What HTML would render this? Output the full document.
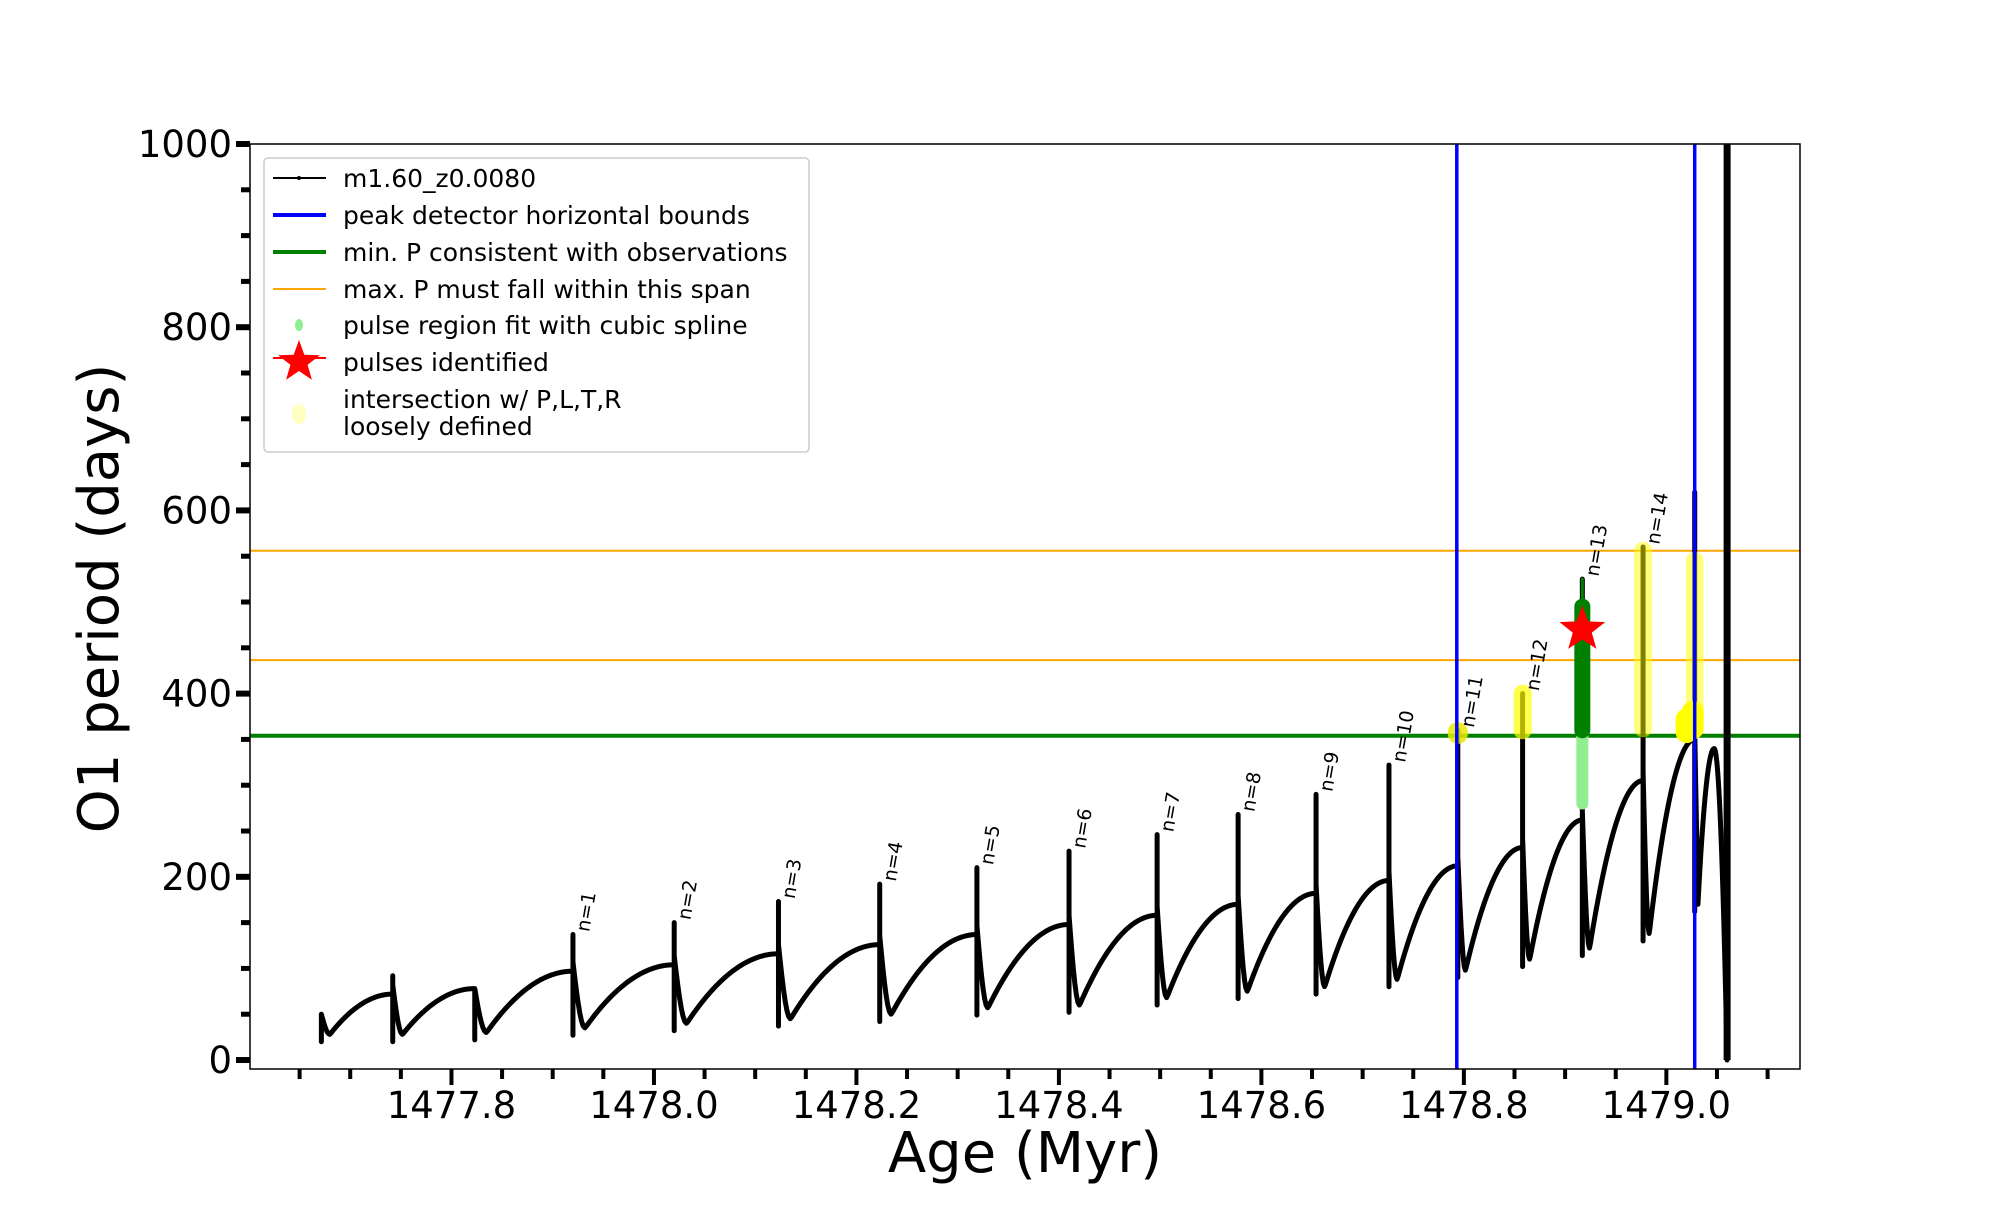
<!DOCTYPE html>
<html><head><meta charset="utf-8"><style>
body{margin:0;background:#fff;width:2000px;height:1200px;overflow:hidden}
svg{font-family:"DejaVu Sans","Liberation Sans",sans-serif}
</style></head><body>
<svg id="chart" width="2000" height="1200"></svg>
<script>
const pulseAges=[1477.6715,1477.742,1477.823,1477.920,1478.020,1478.123,1478.223,1478.319,1478.410,1478.497,1478.577,1478.654,1478.726,1478.794,1478.858,1478.917,1478.977,1479.028];
const spikeTops=[50,92,78,137,150,173,192,210,228,246,268,290,322,360,400,525,560,620];
const preValues=[45,72,78,97,104,116,126,137,148,158,170,182,196,212,232,262,305,350];
const postMins=[28,28,30,35,40,45,50,57,60,68,75,80,88,98,110,122,138,170];
const finalAge=1479.060;
const finalPeak=340;
const blueLines=[1478.793,1479.028];
const orangeLines=[556,436.5];
const greenLine=354;
const xTicks=[1477.8,1478.0,1478.2,1478.4,1478.6,1478.8,1479.0];
const yTicks=[0,200,400,600,800,1000];
const nLabels=["n=1","n=2","n=3","n=4","n=5","n=6","n=7","n=8","n=9","n=10","n=11","n=12","n=13","n=14"];

const L=250,R=1800,T=144,B=1069,X0=1477.601,X1=1479.132,Y0=-9.8,Y1=1000;
const sx=v=>L+(v-X0)/(X1-X0)*(R-L);
const sy=v=>B-(v-Y0)/(Y1-Y0)*(B-T);
const NS="http://www.w3.org/2000/svg";
const svg=document.getElementById('chart');
function mk(tag,attrs,parent){const e=document.createElementNS(NS,tag);for(const k in attrs)e.setAttribute(k,attrs[k]);(parent||svg).appendChild(e);return e;}

const defs=mk('defs',{});
const cp=mk('clipPath',{id:'clip'},defs);mk('rect',{x:L,y:T,width:R-L,height:B-T},cp);
const plot=mk('g',{'clip-path':'url(#clip)'});



orangeLines.forEach((v,i)=>{const l=mk('line',{x1:L,x2:R,y1:sy(v),y2:sy(v),stroke:'#ffa500','stroke-width':2},plot);

});
const gl=mk('line',{x1:L,x2:R,y1:sy(greenLine),y2:sy(greenLine),stroke:'#008000','stroke-width':4},plot);



let d='';
for(let i=0;i<pulseAges.length;i++){
  const t=pulseAges[i];
  d+=`M${sx(t)},${sy(postMins[i]-8)}L${sx(t)},${sy(spikeTops[i])}`;
  const tn=i<pulseAges.length-1?pulseAges[i+1]:finalAge;
  const target=i<pulseAges.length-1?preValues[i+1]:finalPeak;
  const start=Math.min(preValues[i]+10,spikeTops[i]);
  d+=`M${sx(t)},${sy(start)}`;
  const N=60;
  for(let k=1;k<=N;k++){
    const u=k/N;let v;
    if(i===pulseAges.length-1){
      if(u<0.1)v=start+(postMins[i]-start)*(u/0.1);
      else if(u<0.6){const s=(u-0.1)/0.5;v=postMins[i]+(target-postMins[i])*(1-(1-s)*(1-s));}
      else{const s=(u-0.6)/0.4;v=target*(1-s*s);}
    } else if(u<0.12){const s=u/0.12;v=start+(postMins[i]-start)*Math.sin(s*Math.PI/2);}
    else{const s=(u-0.12)/0.88;v=postMins[i]+(target-postMins[i])*(1-(1-s)*(1-s));}
    d+=`L${sx(t+(tn-t)*u)},${sy(v)}`;
  }
}
const curve=mk('path',{d:d,fill:'none',stroke:'#000','stroke-width':5,'stroke-linejoin':'round','stroke-linecap':'round'},plot);


mk('line',{x1:sx(finalAge),x2:sx(finalAge),y1:sy(0),y2:sy(1000),stroke:'#000','stroke-width':7},plot);

function band(t,v0,v1,w,col,op,name){const b=mk('line',{x1:sx(t),x2:sx(t),y1:sy(v0),y2:sy(v1),stroke:col,'stroke-width':w,'stroke-linecap':'round','stroke-opacity':op},plot);

}
band(pulseAges[13],356,358,20,'#e8e800',0.85,'yellow-n11');
band(pulseAges[14],360,400,18,'#ffff00',0.7,'yellow-n12');
band(pulseAges[15],280,355,12,'#90ee90',1,'lightgreen-n13');
band(pulseAges[15],355,525,3,'#008000',1,'green-tip-n13');
band(pulseAges[15],360,495,16,'#008000',1,'green-n13');
band(pulseAges[16],362,556,18,'#ffff00',0.5,'yellow-n14');
band(pulseAges[17],372,545,18,'#ffff00',0.5,'yellow-last');
band(pulseAges[17]-0.008,358,372,22,'#ffff00',1,'yellow-blob');
band(pulseAges[17]-0.002,362,380,22,'#ffff00',1,'yellow-blob2');

blueLines.forEach(v=>{const l=mk('line',{x1:sx(v),x2:sx(v),y1:T,y2:B,stroke:'#0000ff','stroke-width':3.5},plot);

});

function starPts(cx,cy,r1,r2){let p=[];for(let k=0;k<10;k++){const a=-Math.PI/2+k*Math.PI/5;const r=k%2?r2:r1;p.push((cx+r*Math.cos(a)).toFixed(1)+','+(cy+r*Math.sin(a)).toFixed(1));}return p.join(' ');}
const st=mk('polygon',{points:starPts(sx(pulseAges[15]),sy(470),24,10),fill:'#ff0000'},plot);



nLabels.forEach((s,j)=>{const i=j+3;const x=sx(pulseAges[i])+16,y=sy(spikeTops[i])-2;
const tx=mk('text',{x:x,y:y,'font-size':19,transform:`rotate(-80 ${x} ${y})`},plot);tx.textContent=s;

});

const fr=mk('rect',{x:L,y:T,width:R-L,height:B-T,fill:'none',stroke:'#000','stroke-width':1.5});



for(let v=0;v<=1000;v+=50){const maj=v%200===0;mk('line',{x1:L-(maj?14:9),x2:L,y1:sy(v),y2:sy(v),stroke:'#000','stroke-width':maj?6:5});}
yTicks.forEach(v=>{const t=mk('text',{x:L-18,y:sy(v)+13,'text-anchor':'end','font-size':37});t.textContent=v;

});
for(let k=0;k<=29;k++){const v=1477.65+k*0.05;if(v>X1)break;const q=(v-1477.8)/0.2;const maj=Math.abs(q-Math.round(q))<1e-6&&v>1477.79;mk('line',{x1:sx(v),x2:sx(v),y1:B,y2:B+(maj?16:10),stroke:'#000','stroke-width':4});}
xTicks.forEach(v=>{const t=mk('text',{x:sx(v),y:B+49,'text-anchor':'middle','font-size':37});t.textContent=v.toFixed(1);

});
const xt=mk('text',{x:(L+R)/2,y:1172,'text-anchor':'middle','font-size':56});xt.textContent='Age (Myr)';


const yc=(T+B)/2-8;
const yt=mk('text',{x:118,y:yc,'text-anchor':'middle','font-size':56,transform:`rotate(-90 118 ${yc})`});yt.textContent='O1 period (days)';



const lg=mk('g',{});


mk('rect',{x:264,y:158,width:545,height:294,rx:4,fill:'#fff',stroke:'#ccc','stroke-width':1.5},lg);
const entries=[['m1.60_z0.0080',178],['peak detector horizontal bounds',215],['min. P consistent with observations',252],['max. P must fall within this span',289],['pulse region fit with cubic spline',325],['pulses identified',362],['intersection w/ P,L,T,R',399],['loosely defined',426]];
entries.forEach(([s,y])=>{const t=mk('text',{x:343,y:y+9,'font-size':25},lg);t.textContent=s;

});
mk('line',{x1:273,x2:326,y1:178,y2:178,stroke:'#000','stroke-width':2},lg);
mk('circle',{cx:299,cy:178,r:2},lg);
mk('line',{x1:273,x2:326,y1:215,y2:215,stroke:'#0000ff','stroke-width':4},lg);
mk('line',{x1:273,x2:326,y1:252,y2:252,stroke:'#008000','stroke-width':4},lg);
mk('line',{x1:273,x2:326,y1:289,y2:289,stroke:'#ffa500','stroke-width':2},lg);
mk('ellipse',{cx:299,cy:325,rx:4,ry:6,fill:'#90ee90'},lg);
mk('line',{x1:273,x2:326,y1:358,y2:358,stroke:'#ff0000','stroke-width':2},lg);
mk('polygon',{points:starPts(299,362,22,9),fill:'#ff0000'},lg);
mk('ellipse',{cx:299,cy:414,rx:7,ry:10,fill:'#ffffc0'},lg);
</script>
</body></html>
